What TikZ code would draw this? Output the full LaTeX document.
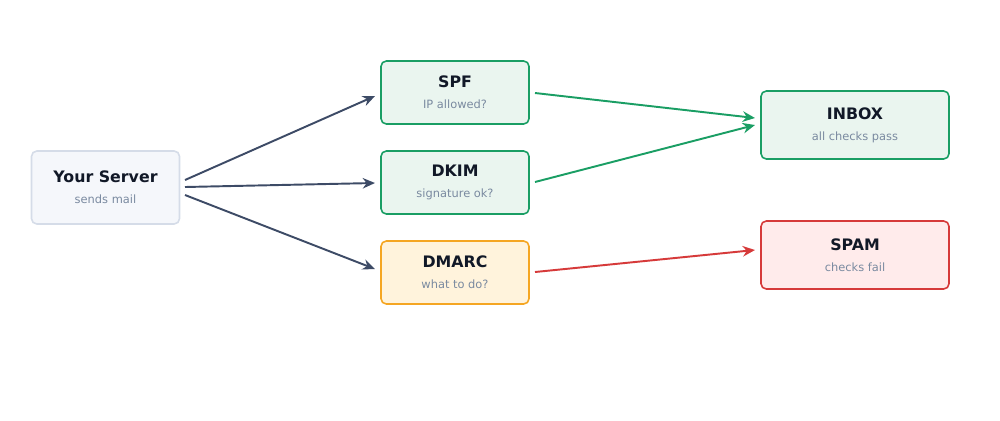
\documentclass[tikz,border=0pt]{standalone}
\usepackage{fontspec}
\setmainfont{DejaVu Sans}
\usetikzlibrary{arrows.meta}
\definecolor{srvfill}{HTML}{F5F7FB}\definecolor{srvline}{HTML}{D5DCE8}
\definecolor{gfill}{HTML}{EAF5EF}\definecolor{gline}{HTML}{1A9E64}
\definecolor{ofill}{HTML}{FFF3DC}\definecolor{oline}{HTML}{F5A623}
\definecolor{rfill}{HTML}{FFEBEB}\definecolor{rline}{HTML}{D63A3A}
\definecolor{dark}{HTML}{3D4B66}\definecolor{ttl}{HTML}{111827}\definecolor{sub}{HTML}{7A8AA0}
\begin{document}
\begin{tikzpicture}[x=0.02cm,y=-0.02cm,
 box/.style={rounded corners=3pt,line width=0.9pt,minimum width=2.96cm,minimum height=1.26cm,align=center,inner sep=0pt},
 arr/.style={line width=1.1pt,-{Stealth[length=7pt,width=6pt]}}]
\useasboundingbox (0,0) rectangle (1000,420);
\newcommand{\lbl}[2]{{\fontsize{9}{11}\selectfont\bfseries\color{ttl}#1}\\[0pt]{\fontsize{6.5}{8}\selectfont\color{sub}#2}}
\node[box,fill=srvfill,draw=srvline,minimum height=1.46cm] (srv) at (105.5,187.5) {\lbl{Your Server}{sends mail}};
\node[box,fill=gfill,draw=gline] (spf) at (455,92.5) {\lbl{SPF}{IP allowed?}};
\node[box,fill=gfill,draw=gline] (dkim) at (455,182.5) {\lbl{DKIM}{signature ok?}};
\node[box,fill=ofill,draw=oline] (dmarc) at (455,272.5) {\lbl{DMARC}{what to do?}};
\node[box,fill=gfill,draw=gline,minimum width=3.76cm,minimum height=1.36cm] (inbox) at (855,125) {\lbl{INBOX}{all checks pass}};
\node[box,fill=rfill,draw=rline,minimum width=3.76cm,minimum height=1.36cm] (spam) at (855,255) {\lbl{SPAM}{checks fail}};
\coordinate (s1) at (185,180);\coordinate (s2) at (185,187);\coordinate (s3) at (185,195);
\coordinate (e1) at (375,96);\coordinate (e2) at (375,183);\coordinate (e3) at (375,269);
\coordinate (a1) at (535,93);\coordinate (a2) at (535,182);\coordinate (a3) at (535,272);
\coordinate (b1) at (755,118);\coordinate (b2) at (755,125);\coordinate (b3) at (755,250);
\draw[arr,dark] (s1) -- (e1);
\draw[arr,dark] (s2) -- (e2);
\draw[arr,dark] (s3) -- (e3);
\draw[arr,gline] (a1) -- (b1);
\draw[arr,gline] (a2) -- (b2);
\draw[arr,rline] (a3) -- (b3);
\end{tikzpicture}
\end{document}
